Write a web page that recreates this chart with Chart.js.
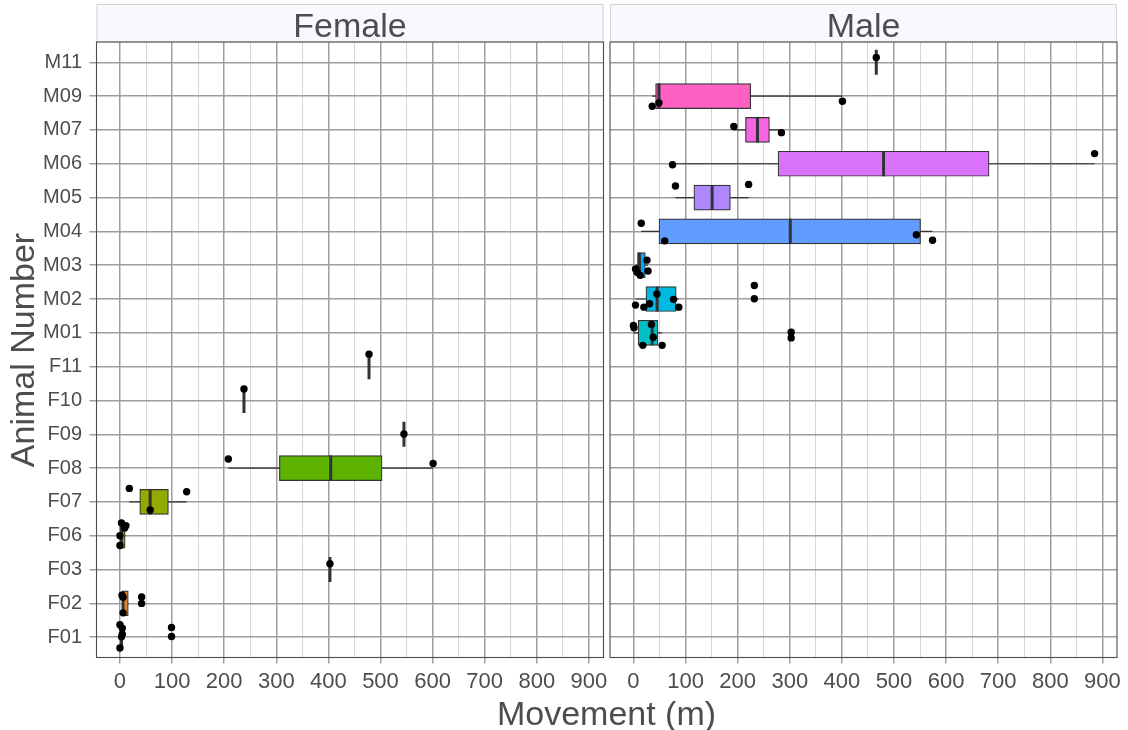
<!DOCTYPE html>
<html>
<head>
<meta charset="utf-8">
<script src="https://cdn.jsdelivr.net/npm/chart.js@4.4.0/dist/chart.umd.min.js"></script>
<style>
  html, body { margin: 0; padding: 0; background: #fff; }
  #wrap { position: relative; width: 1128px; height: 730px; }
  #wrap canvas { position: absolute; left: 0; top: 0; }
</style>
</head>
<body>
<div id="wrap">
  <canvas id="female" width="1128" height="730"></canvas>
  <canvas id="male" width="1128" height="730"></canvas>
</div>
<script>
// animals, bottom row first
var animals = ['F01','F02','F03','F06','F07','F08','F09','F10','F11',
               'M01','M02','M03','M04','M05','M06','M07','M09','M11'];
var boxFills = ['#F8766D','#E88526','#D39200','#B79F00','#93AA00','#5EB300','#00BA38','#00BF74','#00C19F',
                '#00BFC4','#00B9E3','#00ADFA','#619CFF','#AE87FF','#DB72FB','#F564E3','#FF61C3','#FF699C'];

// boxplot summaries per animal (m)
var whiskerLow  = [0,   4,   403, 0,   18,  208,   545, 238, 478, 0,  4,    4,     15,  80.6, 75,    192.6, 36,   466];
var lowerQ      = [0,   4.5, 403, 0.5, 38,  306,   545, 238, 478, 9,  24,   7.75,  49,  116,  277.5, 215,   42.5, 466];
var medians     = [3,   6,   403, 3,   58,  404.5, 545, 238, 478, 36, 45.5, 11.5,  301, 151,  480,   238,   49,   466];
var upperQ      = [4.5, 16,  403, 10,  93,  503,   545, 238, 478, 47, 82,   22.75, 551, 186,  682.5, 261,   225,  466];
var whiskerHigh = [4.5, 16,  403, 11.5,128, 601,   545, 238, 478, 55, 87,   28,    574, 221,  885,   284,   401,  466];

// individual movements with their vertical jitter (in rows)
var obsAnimal = ['F01','F01','F01','F01','F01','F01','F01',
                 'F02','F02','F02','F02','F02',
                 'F03',
                 'F06','F06','F06','F06','F06',
                 'F07','F07','F07',
                 'F08','F08',
                 'F09','F10','F11',
                 'M01','M01','M01','M01','M01','M01','M01','M01',
                 'M02','M02','M02','M02','M02','M02','M02','M02',
                 'M03','M03','M03','M03','M03',
                 'M04','M04','M04','M04',
                 'M05','M05',
                 'M06','M06',
                 'M07','M07',
                 'M09','M09','M09',
                 'M11'];
var obsMove = [0, 4.5, 4.5, 3, 0, 99, 99,
               4, 6, 41.6, 41.6, 6,
               403,
               3, 11.5, 9, 0, 0,
               18, 128, 58,
               208, 601,
               545, 238, 478,
               0, 1, 34.5, 38, 18, 55, 302.7, 302.7,
               45, 77, 87, 4, 20, 31, 232, 232,
               26, 28, 4, 7, 13,
               15, 60, 543, 574,
               80.6, 221,
               75, 885,
               192.6, 284,
               36, 49, 401,
               466];
var obsJitter = [0.37, 0.27, 0.09, 0.01, -0.32, 0.29, 0.02,
                 0.24, 0.18, 0.19, 0, -0.28,
                 0.17,
                 0.38, 0.30, 0.23, 0, -0.29,
                 0.40, 0.30, -0.24,
                 0.27, 0.14,
                 0.01, 0.34, 0.37,
                 0.22, 0.15, 0.25, -0.13, -0.37, -0.37, 0.02, -0.15,
                 0.15, -0.01, -0.24, -0.18, -0.24, -0.14, 0.40, 0.01,
                 0.15, -0.17, -0.11, -0.21, -0.30,
                 0.24, -0.28, -0.10, -0.26,
                 0.34, 0.39,
                 -0.03, 0.30,
                 0.10, -0.08,
                 -0.30, -0.20, -0.15,
                 0.14];

var xBreaks = [0, 100, 200, 300, 400, 500, 600, 700, 800, 900];

var FONT = '"Liberation Sans", Arial, sans-serif';
var MAJOR = '#9d9d9d';
var MINOR = '#d6d6d6';
var INK = '#333333';

function isMajor(c) {
  return c.tick && xBreaks.indexOf(c.tick.value) >= 0;
}

function panelDatasets(prefix) {
  var sets = [];
  var boxes = [], fills = [];
  animals.forEach(function (a, i) {
    if (a[0] !== prefix) return;
    var row = i + 1;
    if (upperQ[i] > lowerQ[i]) {
      sets.push({
        type: 'scatter', showLine: true, order: 3,
        data: [{x: whiskerLow[i], y: row}, {x: whiskerHigh[i], y: row}],
        borderColor: INK, borderWidth: 1.2, pointRadius: 0
      });
      boxes.push({y: row, x: [lowerQ[i], upperQ[i]]});
      fills.push(boxFills[i]);
    }
    // median bar (also the whole box when all values are equal)
    sets.push({
      type: 'scatter', showLine: true, order: 1,
      data: [{x: medians[i], y: row - 0.37}, {x: medians[i], y: row + 0.37}],
      borderColor: INK, borderWidth: 3, borderCapStyle: 'butt', pointRadius: 0
    });
  });
  sets.push({
    type: 'bar', indexAxis: 'y', order: 2,
    data: boxes,
    backgroundColor: fills,
    borderColor: INK,
    borderWidth: 1.2,
    borderSkipped: false,
    barThickness: 25
  });
  var pts = [];
  obsAnimal.forEach(function (a, j) {
    if (a[0] !== prefix) return;
    pts.push({x: obsMove[j], y: animals.indexOf(a) + 1 + obsJitter[j]});
  });
  sets.push({
    type: 'scatter', order: 0,
    data: pts,
    pointRadius: 3.7,
    pointBackgroundColor: '#000',
    pointBorderWidth: 0
  });
  return sets;
}

function panelScales(showY) {
  return {
    x: {
      type: 'linear', min: -45, max: 928,
      afterFit: function (s) { s.height = 72.5; },
      border: {display: false},
      grid: {
        color: function (c) { return isMajor(c) ? MAJOR : MINOR; },
        lineWidth: function (c) { return isMajor(c) ? 1.5 : 1; },
        tickLength: 6,
        tickColor: function (c) { return isMajor(c) ? MAJOR : 'rgba(0,0,0,0)'; }
      },
      ticks: {
        stepSize: 50, includeBounds: false, autoSkip: false, maxRotation: 0,
        padding: 5, color: '#4d4d4d', font: {family: FONT, size: 22},
        callback: function (v) { return xBreaks.indexOf(v) >= 0 ? String(v) : ''; }
      }
    },
    y: {
      type: 'linear', min: 0.4, max: 18.6, offset: false,
      afterFit: function (s) { s.width = showY ? 96.5 : 0; },
      border: {display: false},
      grid: {offset: false, color: MAJOR, lineWidth: 1.5, drawTicks: showY, tickLength: 7, tickColor: MAJOR},
      ticks: {
        display: showY, stepSize: 1, includeBounds: false, autoSkip: false,
        padding: 7.5, color: '#4d4d4d', font: {family: FONT, size: 20},
        callback: function (v) { return animals[v - 1]; }
      }
    }
  };
}

// facet strip, panel frame and shared axis titles
var panelFrame = {
  id: 'panelFrame',
  afterDraw: function (chart, args, opts) {
    var ctx = chart.ctx, a = chart.chartArea;
    ctx.save();
    ctx.fillStyle = '#F8F8FF';
    ctx.fillRect(a.left, 4, a.right - a.left, a.top - 4);
    ctx.strokeStyle = '#d4d4d4';
    ctx.lineWidth = 1;
    ctx.strokeRect(a.left + 0.5, 4.5, a.right - a.left - 1, a.top - 4.5);
    ctx.fillStyle = '#4d4d4d';
    ctx.font = '34px ' + FONT;
    ctx.textAlign = 'center';
    ctx.textBaseline = 'alphabetic';
    ctx.fillText(opts.label, (a.left + a.right) / 2, 37);

    ctx.strokeStyle = '#4d4d4d';
    ctx.lineWidth = 1.1;
    ctx.strokeRect(a.left, a.top, a.right - a.left, a.bottom - a.top);

    if (opts.titles) {
      ctx.fillStyle = '#4d4d4d';
      ctx.font = '34px ' + FONT;
      ctx.fillText('Movement (m)', 606.5, 725);
      ctx.translate(34, 350);
      ctx.rotate(-Math.PI / 2);
      ctx.fillText('Animal Number', 0, 0);
    }
    ctx.restore();
  }
};

function makePanel(id, prefix, label, padding, showY) {
  return new Chart(document.getElementById(id), {
    type: 'scatter',
    data: {datasets: panelDatasets(prefix)},
    options: {
      responsive: false,
      animation: false,
      events: [],
      devicePixelRatio: 1,
      layout: {padding: padding},
      scales: panelScales(showY),
      plugins: {
        legend: {display: false},
        tooltip: {enabled: false},
        panelFrame: {label: label, titles: showY}
      }
    },
    plugins: [panelFrame]
  });
}

makePanel('female', 'F', 'Female', {left: 0, right: 524.5, top: 42, bottom: 0}, true);
makePanel('male', 'M', 'Male', {left: 610, right: 11, top: 42, bottom: 0}, false);
</script>
</body>
</html>
